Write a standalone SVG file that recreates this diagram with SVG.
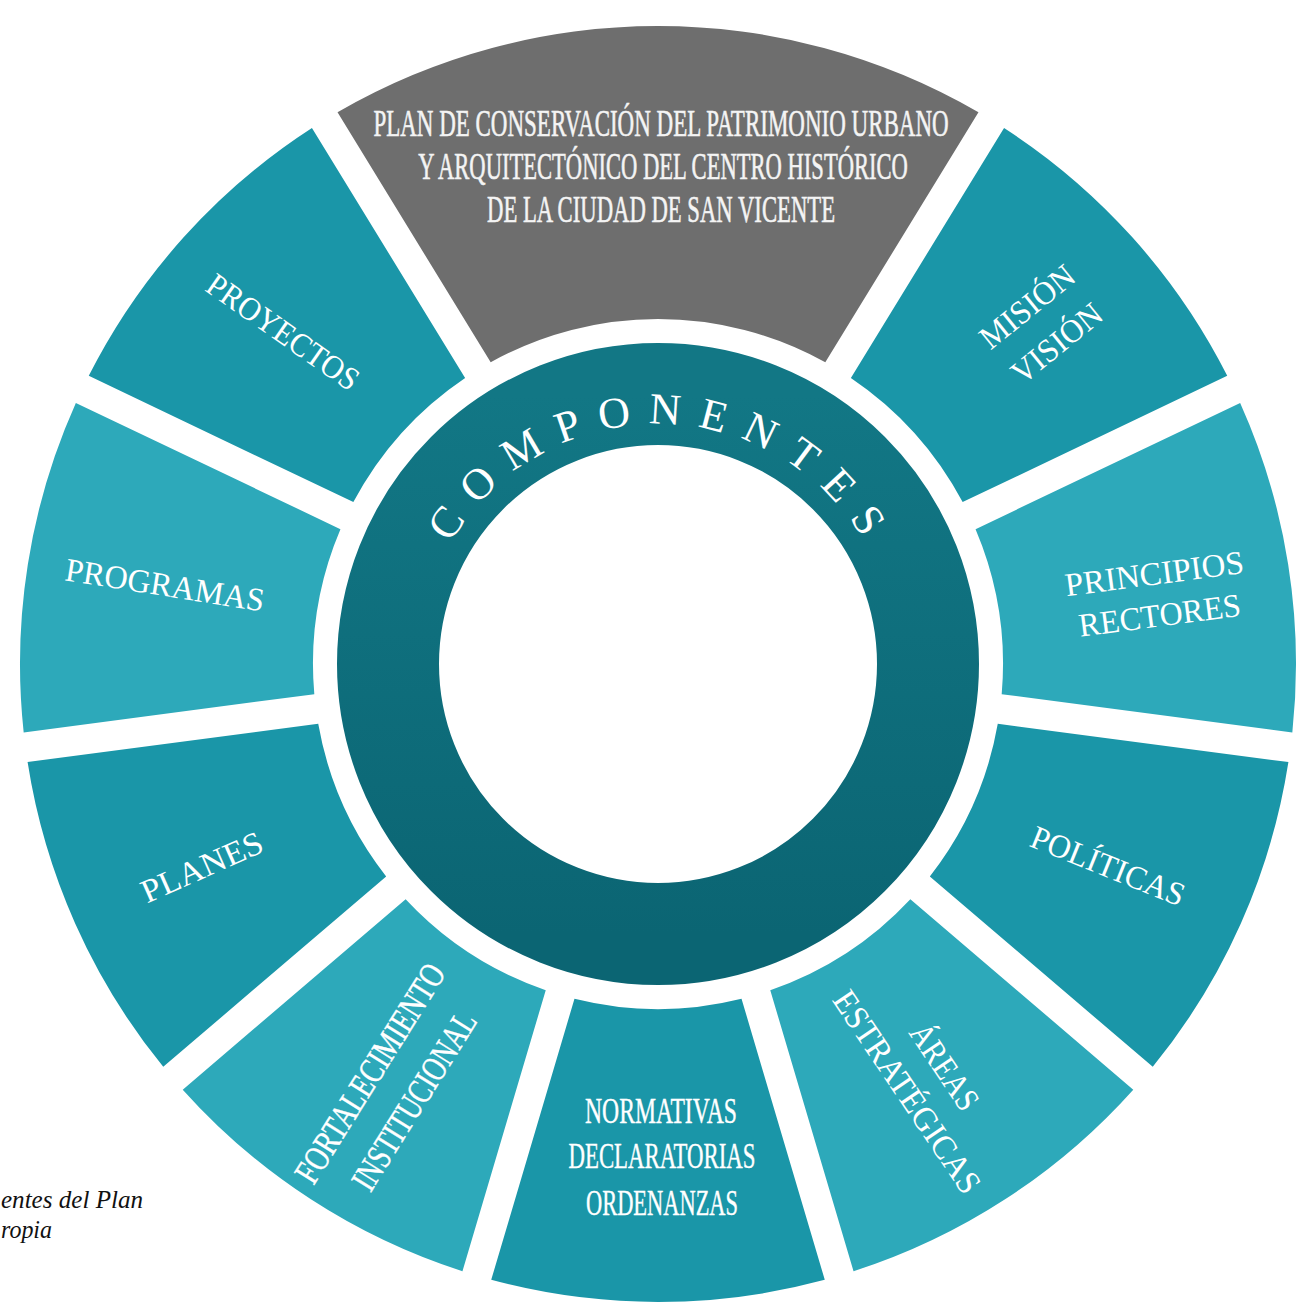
<svg xmlns="http://www.w3.org/2000/svg" width="1302" height="1307" viewBox="0 0 1302 1307">
<defs>
<style>
.dark{fill:#1a96a8}
.light{fill:#2da9ba}
.gray{fill:#6e6e6e}
.lbl{font-family:"Liberation Serif",serif;fill:#ffffff;font-size:33px;text-anchor:middle}
.cond{font-family:"Liberation Serif",serif;fill:#ffffff;font-size:36px;text-anchor:middle;stroke:#ffffff;stroke-width:0.4}
.head{font-family:"Liberation Serif",serif;fill:#f4f4f4;font-size:38px;text-anchor:middle;stroke:#f4f4f4;stroke-width:0.6}
.ring{font-family:"Liberation Serif",serif;fill:#ffffff;font-size:44px;letter-spacing:17px;text-anchor:middle}
.cap{font-family:"Liberation Serif",serif;font-style:italic;fill:#111111;font-size:25px}
</style>
<path id="seg" d="M 615.82,-166.77 A 638 638 0 0 1 615.82,166.77 L 334.74,83.52 A 345 345 0 0 0 334.74,-83.52 Z"/>
<path id="arc" d="M 418,664 A 240 240 0 0 1 898,664"/>
<linearGradient id="ringGrad" x1="0" y1="0" x2="0" y2="1">
<stop offset="0" stop-color="#127785"/>
<stop offset="1" stop-color="#0b6573"/>
</linearGradient>
</defs>
<rect width="1302" height="1307" fill="#ffffff"/>

<g id="plan">
<path class="gray" transform="translate(658,664) rotate(270)" d="M 551.67,-320.47 A 638 638 0 0 1 551.67,320.47 L 301.72,167.31 A 345 345 0 0 0 301.72,-167.31 Z"/>
<text class="head" transform="translate(661,136) scale(0.75,1)" textLength="767" lengthAdjust="spacingAndGlyphs">PLAN DE CONSERVACIÓN DEL PATRIMONIO URBANO</text>
<text class="head" transform="translate(663,179) scale(0.75,1)" textLength="653" lengthAdjust="spacingAndGlyphs">Y ARQUITECTÓNICO DEL CENTRO HISTÓRICO</text>
<text class="head" transform="translate(661,222) scale(0.75,1)" textLength="464" lengthAdjust="spacingAndGlyphs">DE LA CIUDAD DE SAN VICENTE</text>
</g>

<g id="mision-vision">
<use href="#seg" class="dark" transform="translate(658,664) rotate(318)"/>
<g transform="translate(1042,325) rotate(-39)">
<text class="lbl" y="-12.5" textLength="112" lengthAdjust="spacingAndGlyphs">MISIÓN</text>
<text class="lbl" y="34.5" textLength="107" lengthAdjust="spacingAndGlyphs">VISIÓN</text>
</g>
</g>

<g id="principios-rectores">
<use href="#seg" class="light" transform="translate(658,664) rotate(351)"/>
<g transform="translate(1157,594.5) rotate(-7.5)">
<text class="lbl" y="-10" textLength="180" lengthAdjust="spacingAndGlyphs">PRINCIPIOS</text>
<text class="lbl" y="32" textLength="163" lengthAdjust="spacingAndGlyphs">RECTORES</text>
</g>
</g>

<g id="politicas">
<use href="#seg" class="dark" transform="translate(658,664) rotate(24)"/>
<text class="lbl" transform="translate(1108,866) rotate(22)" y="11" textLength="163" lengthAdjust="spacingAndGlyphs">POLÍTICAS</text>
</g>

<g id="areas-estrategicas">
<use href="#seg" class="light" transform="translate(658,664) rotate(57)"/>
<g transform="translate(925.5,1079.5) rotate(56)">
<text class="lbl" style="font-size:34px" y="-11.5" textLength="97" lengthAdjust="spacingAndGlyphs">ÁREAS</text>
<text class="lbl" style="font-size:34px" y="33.5" textLength="237" lengthAdjust="spacingAndGlyphs">ESTRATÉGICAS</text>
</g>
</g>

<g id="normativas">
<use href="#seg" class="dark" transform="translate(658,664) rotate(90)"/>
<text class="cond" style="font-size:35px" x="661" y="1123" textLength="152" lengthAdjust="spacingAndGlyphs">NORMATIVAS</text>
<text class="cond" style="font-size:35px" x="662" y="1168" textLength="187" lengthAdjust="spacingAndGlyphs">DECLARATORIAS</text>
<text class="cond" style="font-size:35px" x="662" y="1215" textLength="152" lengthAdjust="spacingAndGlyphs">ORDENANZAS</text>
</g>

<g id="fortalecimiento">
<use href="#seg" class="light" transform="translate(658,664) rotate(123)"/>
<g transform="translate(392,1087) rotate(-58)">
<text class="cond" y="-14" textLength="251" lengthAdjust="spacingAndGlyphs">FORTALECIMIENTO</text>
<text class="cond" y="38" textLength="203" lengthAdjust="spacingAndGlyphs">INSTITUCIONAL</text>
</g>
</g>

<g id="planes">
<use href="#seg" class="dark" transform="translate(658,664) rotate(156)"/>
<text class="lbl" transform="translate(202,867) rotate(-24)" y="11" textLength="130" lengthAdjust="spacingAndGlyphs">PLANES</text>
</g>

<g id="programas">
<use href="#seg" class="light" transform="translate(658,664) rotate(189)"/>
<text class="lbl" transform="translate(165,585) rotate(9)" y="11" textLength="201" lengthAdjust="spacingAndGlyphs">PROGRAMAS</text>
</g>

<g id="proyectos">
<use href="#seg" class="dark" transform="translate(658,664) rotate(222)"/>
<text class="lbl" transform="translate(283,332) rotate(35)" y="11" textLength="178" lengthAdjust="spacingAndGlyphs">PROYECTOS</text>
</g>

<g id="componentes">
<circle cx="658" cy="664" r="270" fill="none" stroke="url(#ringGrad)" stroke-width="102"/>
<text class="ring"><textPath href="#arc" startOffset="382">COMPONENTES</textPath></text>
</g>

<g id="connectors"/>

<g id="caption">
<text class="cap" x="1" y="1208" textLength="142" lengthAdjust="spacingAndGlyphs">entes del Plan</text>
<text class="cap" x="1" y="1238" textLength="51" lengthAdjust="spacingAndGlyphs">ropia</text>
</g>
</svg>
